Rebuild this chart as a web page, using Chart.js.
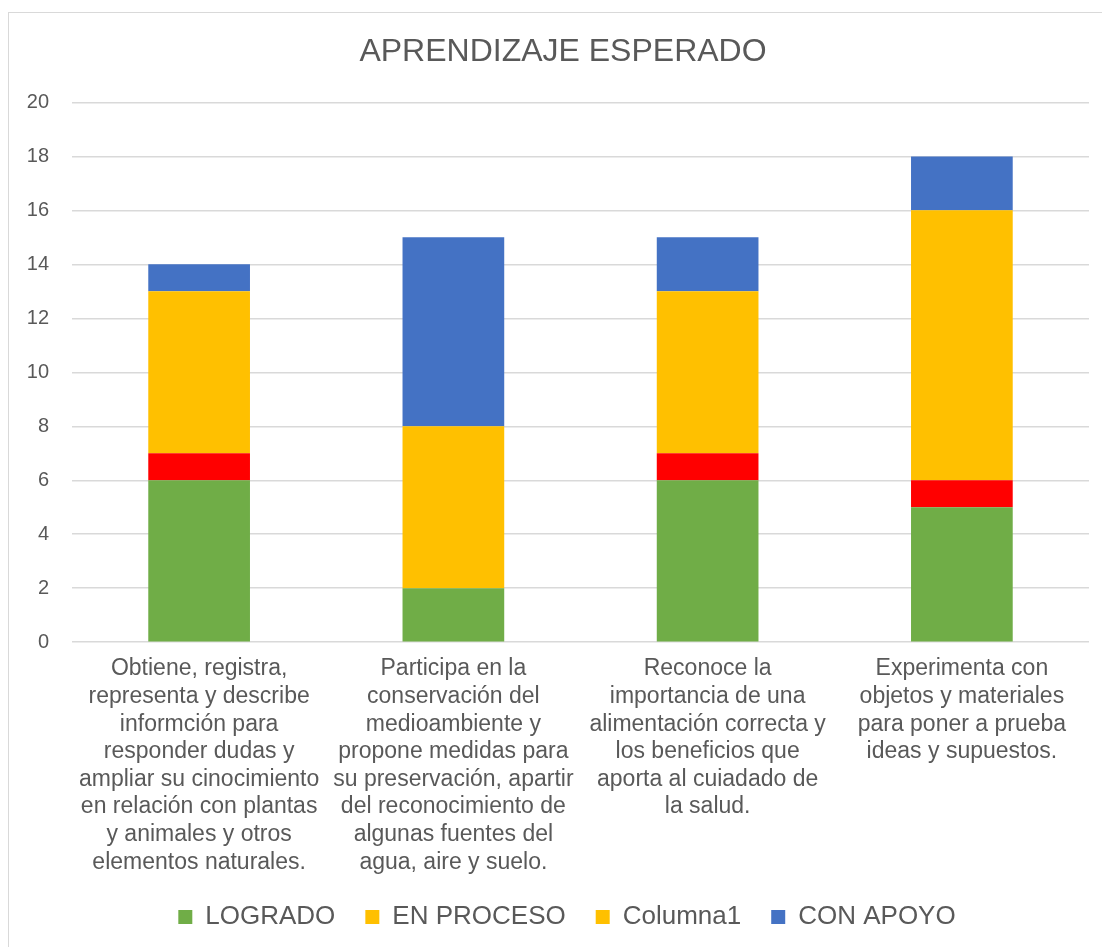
<!DOCTYPE html>
<html>
<head>
<meta charset="utf-8">
<script src="https://cdn.jsdelivr.net/npm/chart.js@4/dist/chart.umd.min.js"></script>
<style>
  body { margin: 0; background: #fff; overflow: hidden; }
  .marco {
    position: absolute; left: 8px; top: 12px;
    width: 1110px; height: 950px;
    border: 1px solid #d9d9d9; background: #fff;
  }
  canvas { position: absolute; left: 0; top: 0; }
</style>
</head>
<body>
<div class="marco">
  <canvas id="grafica" width="1110" height="934"></canvas>
</div>
<script>
// datos
const categorias = [
  ["Obtiene, registra,", "representa y describe", "informción para", "responder dudas y", "ampliar su cinocimiento", "en relación con plantas", "y animales y otros", "elementos naturales."],
  ["Participa en la", "conservación del", "medioambiente y", "propone medidas para", "su preservación, apartir", "del reconocimiento de", "algunas fuentes del", "agua, aire y suelo."],
  ["Reconoce la", "importancia de una", "alimentación correcta y", "los beneficios que", "aporta al cuiadado de", "la salud."],
  ["Experimenta con", "objetos y materiales", "para poner a prueba", "ideas y supuestos."]
];
const logrado = [6, 2, 6, 5];
const enProceso = [1, 0, 1, 1];
const columna1 = [6, 6, 6, 10];
const conApoyo = [1, 7, 2, 2];
const ticksY = [0, 2, 4, 6, 8, 10, 12, 14, 16, 18, 20];

const gris = '#595959';
const fuente = "'Liberation Sans', Arial, sans-serif";

// acomoda un poco la leyenda (mas arriba y un poco a la derecha)
const moverLeyenda = {
  id: 'moverLeyenda',
  afterLayout(chart) {
    chart.legend.top -= 7;
    chart.legend.bottom -= 7;
    chart.legend.left += 4;
    chart.legend.right += 4;
  }
};

const ctx = document.getElementById('grafica');
new Chart(ctx, {
  type: 'bar',
  data: {
    labels: categorias,
    datasets: [
      { label: 'LOGRADO', data: logrado, backgroundColor: '#70AD47' },
      // las barras son rojas pero la leyenda la muestra amarilla
      { label: 'EN PROCESO', data: enProceso, backgroundColor: '#FF0000', legendColor: '#FFC000' },
      { label: 'Columna1', data: columna1, backgroundColor: '#FFC000' },
      { label: 'CON APOYO', data: conApoyo, backgroundColor: '#4472C4' }
    ]
  },
  plugins: [moverLeyenda],
  options: {
    responsive: false,
    animation: false,
    barPercentage: 0.4,
    categoryPercentage: 1,
    layout: { padding: { left: 18, right: 20, top: 0, bottom: 0 } },
    scales: {
      x: {
        stacked: true,
        grid: { display: false },
        border: { display: false },
        ticks: {
          color: gris,
          padding: 5,
          maxRotation: 0,
          autoSkip: false,
          font: { family: fuente, size: 23, lineHeight: 1.2 }
        },
        // quitar el relleno lateral que agrega chart.js por las etiquetas largas
        afterFit: (axis) => {
          axis.paddingLeft = 0;
          axis.paddingRight = 30;
        }
      },
      y: {
        stacked: true,
        min: 0,
        max: 20,
        afterBuildTicks: (axis) => { axis.ticks = ticksY.map(v => ({ value: v })); },
        afterFit: (axis) => { axis.width = 45; },
        grid: { color: '#d9d9d9', lineWidth: 1.5, drawTicks: false },
        border: { display: false },
        ticks: {
          color: gris,
          padding: 23,
          font: { family: fuente, size: 20 }
        }
      }
    },
    plugins: {
      tooltip: { enabled: false },
      title: {
        display: true,
        text: 'APRENDIZAJE ESPERADO',
        color: gris,
        font: { family: fuente, size: 32, weight: 'normal', lineHeight: 1.2 },
        padding: { top: 20, bottom: 31 }
      },
      legend: {
        position: 'bottom',
        labels: {
          color: gris,
          boxWidth: 14,
          boxHeight: 14,
          padding: 30,
          font: { family: fuente, size: 26 },
          generateLabels: (chart) => {
            const items = Chart.defaults.plugins.legend.labels.generateLabels(chart);
            items.forEach((it, i) => {
              const ds = chart.data.datasets[i];
              if (ds.legendColor) it.fillStyle = ds.legendColor;
              it.lineWidth = 0;
            });
            return items;
          }
        }
      }
    }
  }
});
</script>
</body>
</html>
